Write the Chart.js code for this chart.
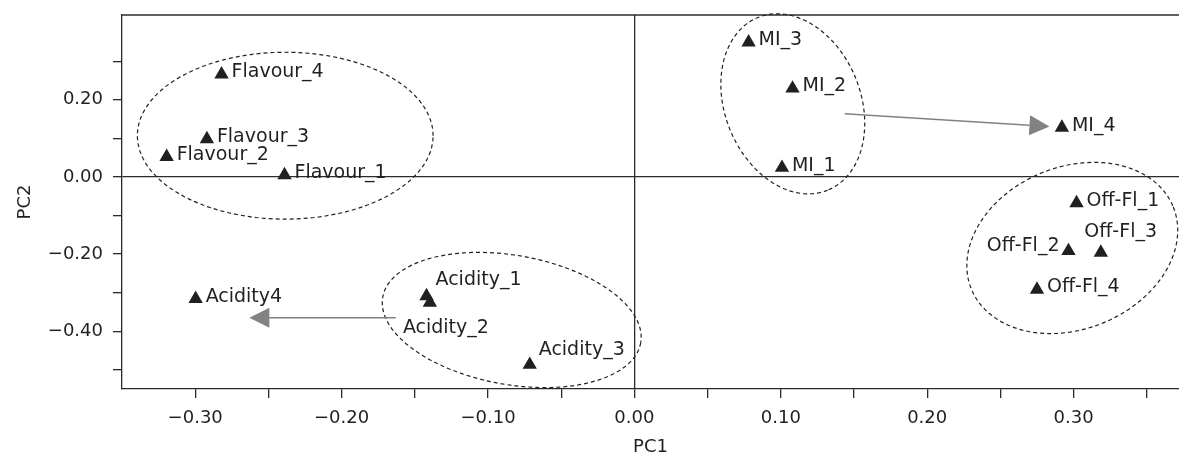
<!DOCTYPE html>
<html>
<head>
<meta charset="utf-8">
<script src="https://cdn.jsdelivr.net/npm/chart.js@4.4.1/dist/chart.umd.min.js"></script>
<style>
  html, body { margin: 0; padding: 0; background: #ffffff; }
  #wrap { width: 1179px; height: 456px; }
</style>
</head>
<body>
<div id="wrap"><canvas id="c" width="1179" height="456"></canvas></div>
<script>
// ---------- data ----------
const pointNames = ['Flavour_1','Flavour_2','Flavour_3','Flavour_4',
                    'Acidity_1','Acidity_2','Acidity_3','Acidity4',
                    'MI_1','MI_2','MI_3','MI_4',
                    'Off-Fl_1','Off-Fl_2','Off-Fl_3','Off-Fl_4'];
const pc1 = [-0.239, -0.3195, -0.292, -0.282,
             -0.142, -0.1397, -0.0715, -0.2997,
              0.1008, 0.108, 0.078, 0.292,
              0.302, 0.2965, 0.3186, 0.275];
const pc2 = [ 0.005, 0.052, 0.098, 0.266,
             -0.309, -0.326, -0.487, -0.316,
              0.024, 0.2295, 0.349, 0.128,
             -0.068, -0.192, -0.196, -0.292];

// arrows (data coordinates): start -> end
const arrowFromX = [-0.163, 0.1436];
const arrowFromY = [-0.365, 0.1636];
const arrowToX   = [-0.263, 0.2835];
const arrowToY   = [-0.365, 0.131];

// dashed group ellipses (data coords): centre + two conjugate semi-axis vectors
const ellCX = [-0.2385, -0.0838, 0.1082, 0.2991];
const ellCY = [ 0.107,  -0.371,  0.1896, -0.1842];
const ellUX = [ 0.101,   0.0881, 0.0238, 0.0690];
const ellUY = [ 0.0,    -0.0592, -0.224, 0.1062];
const ellVX = [ 0.0,    -0.00766, -0.0430, 0.0207];
const ellVY = [ 0.2164, -0.165,  -0.0662, -0.195];

// tick labels
const xTickValues = [-0.30, -0.20, -0.10, 0.00, 0.10, 0.20, 0.30];
const xTickLabels = ['\u22120.30','\u22120.20','\u22120.10','0.00','0.10','0.20','0.30'];
const yTickValues = [-0.40, -0.20, 0.00, 0.20];
const yTickLabels = ['\u22120.40','\u22120.20','0.00','0.20'];
const yTickMarks  = [-0.5, -0.4, -0.3, -0.2, -0.1, 0, 0.1, 0.2, 0.3];

// ---------- styling ----------
const INK = '#231f20';
const AXIS = '#2b2b2b';
const FONT = 'DejaVu Sans';
const labelPlacement = {
  'Acidity_1': {dx: 9,   dy: -16, align: 'left'},
  'Acidity_2': {dx: -27, dy: 25,  align: 'left'},
  'Acidity_3': {dx: 9,   dy: -15, align: 'left'},
  'Off-Fl_2':  {dx: -9,  dy: -5,  align: 'right'},
  'Off-Fl_3':  {dx: -16.5, dy: -20, align: 'left'}
};
const defaultPlacement = {dx: 10, dy: -2, align: 'left'};

const points = pointNames.map((n, i) => ({x: pc1[i], y: pc2[i], name: n}));

function near(a, b) { return Math.abs(a - b) < 1e-6; }

const overlay = {
  id: 'overlay',
  afterDatasetsDraw(chart) {
    const {ctx, chartArea, scales: {x, y}} = chart;
    ctx.save();
    // top frame line
    ctx.strokeStyle = AXIS; ctx.lineWidth = 1.3;
    ctx.beginPath();
    ctx.moveTo(chartArea.left, chartArea.top);
    ctx.lineTo(chartArea.right, chartArea.top);
    ctx.stroke();

    // dashed ellipses
    ctx.strokeStyle = INK; ctx.lineWidth = 1.2; ctx.setLineDash([4, 3]);
    for (let k = 0; k < ellCX.length; k++) {
      ctx.beginPath();
      const N = 160;
      for (let s = 0; s <= N; s++) {
        const t = s / N * Math.PI * 2;
        const dxv = ellCX[k] + ellUX[k] * Math.cos(t) + ellVX[k] * Math.sin(t);
        const dyv = ellCY[k] + ellUY[k] * Math.cos(t) + ellVY[k] * Math.sin(t);
        const px = x.getPixelForValue(dxv), py = y.getPixelForValue(dyv);
        if (s === 0) ctx.moveTo(px, py); else ctx.lineTo(px, py);
      }
      ctx.stroke();
    }
    ctx.setLineDash([]);

    // arrows
    ctx.strokeStyle = '#808285'; ctx.fillStyle = '#808285'; ctx.lineWidth = 1.5;
    for (let k = 0; k < arrowFromX.length; k++) {
      const x0 = x.getPixelForValue(arrowFromX[k]), y0 = y.getPixelForValue(arrowFromY[k]);
      const x1 = x.getPixelForValue(arrowToX[k]),   y1 = y.getPixelForValue(arrowToY[k]);
      const L = Math.hypot(x1 - x0, y1 - y0);
      const ux = (x1 - x0) / L, uy = (y1 - y0) / L;
      const hl = 20, hw = 10;
      const bx = x1 - ux * hl, by = y1 - uy * hl;
      ctx.beginPath(); ctx.moveTo(x0, y0); ctx.lineTo(bx, by); ctx.stroke();
      ctx.beginPath();
      ctx.moveTo(x1, y1);
      ctx.lineTo(bx - uy * hw, by + ux * hw);
      ctx.lineTo(bx + uy * hw, by - ux * hw);
      ctx.closePath(); ctx.fill();
    }

    // point labels
    ctx.fillStyle = INK;
    ctx.font = '19px "' + FONT + '"';
    ctx.textBaseline = 'middle';
    points.forEach(p => {
      const pl = labelPlacement[p.name] || defaultPlacement;
      ctx.textAlign = pl.align;
      ctx.fillText(p.name, x.getPixelForValue(p.x) + pl.dx, y.getPixelForValue(p.y) + pl.dy);
    });
    ctx.restore();
  }
};

new Chart(document.getElementById('c'), {
  type: 'scatter',
  data: {
    datasets: [{
      data: points,
      pointStyle: 'triangle',
      pointRadius: 8.3,
      pointHoverRadius: 8.3,
      backgroundColor: INK,
      borderColor: INK,
      borderWidth: 0
    }]
  },
  options: {
    responsive: false,
    animation: false,
    devicePixelRatio: 1,
    layout: { autoPadding: false, padding: {top: 15, right: 0, bottom: 0, left: 0} },
    plugins: { legend: {display: false}, tooltip: {enabled: false} },
    scales: {
      x: {
        type: 'linear', position: 'bottom',
        min: -0.35, max: 0.372,
        border: {display: true, color: AXIS, width: 1.3},
        grid: {
          drawOnChartArea: true, drawTicks: true, tickLength: 9, lineWidth: 1.3,
          color: c => (c.tick && near(c.tick.value, 0)) ? AXIS : 'rgba(0,0,0,0)',
          tickColor: c => (c.tick && near(c.tick.value, -0.35)) ? 'rgba(0,0,0,0)' : AXIS,
          tickWidth: 1.3
        },
        ticks: {
          stepSize: 0.05, includeBounds: false, autoSkip: false, maxRotation: 0,
          padding: 10, color: INK, font: {family: FONT, size: 18},
          callback: v => { const i = xTickValues.findIndex(t => near(t, v)); return i >= 0 ? xTickLabels[i] : ''; }
        },
        title: { display: true, text: 'PC1', color: INK, font: {family: FONT, size: 18, lineHeight: 1}, padding: 0 },
        afterFit: s => { s.height = 67; s.paddingLeft = 0; s.paddingRight = 0; }
      },
      y: {
        type: 'linear', position: 'left',
        min: -0.55, max: 0.42,
        border: {display: true, color: AXIS, width: 1.3},
        grid: {
          drawOnChartArea: true, drawTicks: true, tickLength: 9, lineWidth: 1.3,
          color: c => (c.tick && near(c.tick.value, 0)) ? AXIS : 'rgba(0,0,0,0)',
          tickColor: c => (c.tick && yTickMarks.some(t => near(t, c.tick.value))) ? AXIS : 'rgba(0,0,0,0)',
          tickWidth: 1.3
        },
        ticks: {
          stepSize: 0.1, includeBounds: false, autoSkip: false,
          padding: 10, color: INK, font: {family: FONT, size: 18},
          callback: v => { const i = yTickValues.findIndex(t => near(t, v)); return i >= 0 ? yTickLabels[i] : ''; }
        },
        title: { display: true, text: 'PC2', color: INK, font: {family: FONT, size: 18, lineHeight: 1}, padding: {top: 16, bottom: 0} },
        afterFit: s => { s.width = 122; s.paddingTop = 0; s.paddingBottom = 0; }
      }
    }
  },
  plugins: [overlay]
});
</script>
</body>
</html>
